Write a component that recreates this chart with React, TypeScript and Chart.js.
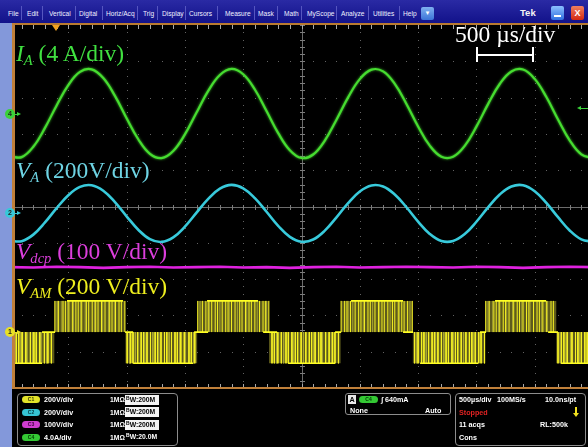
import React, { useEffect, useRef } from "react";
import { Chart, registerables } from "chart.js";

Chart.register(...registerables);

// Horizontal: 500 µs/div over 10 divisions; vertical: 10 divisions
const US_PER_DIV = 500;
const H_DIVS = 10;
const V_DIVS = 10;

// Sample instants (µs) for the two sinusoidal channels
const sampleTimesUs = [
  0, 100, 200, 300, 400, 500, 600, 700, 800, 900,
  1000, 1100, 1200, 1300, 1400, 1500, 1600, 1700, 1800, 1900,
  2000, 2100, 2200, 2300, 2400, 2500, 2600, 2700, 2800, 2900,
  3000, 3100, 3200, 3300, 3400, 3500, 3600, 3700, 3800, 3900,
  4000, 4100, 4200, 4300, 4400, 4500, 4600, 4700, 4800, 4900, 5000,
];

// CH4 – phase current I_A (A)
const phaseCurrentA = [
  -4.72, -4.8, -3.66, -1.58, 0.9, 3.14, 4.59, 4.87, 3.91, 1.95,
  -0.51, -2.83, -4.44, -4.91, -4.13, -2.3, 0.11, 2.5, 4.25, 4.92,
  4.33, 2.65, 0.28, -2.15, -4.04, -4.9, -4.51, -2.97, -0.67, 1.79,
  3.8, 4.84, 4.65, 3.27, 1.06, -1.42, -3.54, -4.76, -4.76, -3.56,
  -1.44, 1.04, 3.26, 4.64, 4.85, 3.82, 1.82, -0.65, -2.95, -4.5, -4.9,
];

// CH2 – phase voltage V_A (V)
const phaseVoltageV = [
  -151, -153, -117, -50, 29, 100, 146, 155, 125, 62,
  -16, -90, -142, -157, -132, -73, 4, 80, 136, 157,
  138, 84, 9, -69, -129, -156, -144, -95, -22, 57,
  121, 154, 148, 104, 34, -45, -113, -152, -152, -114,
  -46, 33, 104, 148, 155, 122, 58, -21, -94, -143, -156,
];

// CH3 – DC-link voltage V_dcp (V)
const dcTimesUs = [
  0, 200, 400, 600, 800, 1000, 1200, 1400, 1600, 1800, 2000, 2200, 2400,
  2600, 2800, 3000, 3200, 3400, 3600, 3800, 4000, 4200, 4400, 4600, 4800, 5000,
];
const dcLinkV = [
  345, 344, 346, 345, 343, 345, 346, 344, 345, 346, 344, 345, 343,
  345, 346, 344, 345, 346, 345, 344, 346, 345, 343, 345, 346, 345,
];

// CH1 – pole voltage V_AM: half-cycle bands and their polarity
const poleBandStartUs = [0, 380, 990, 1605, 2222, 2835, 3455, 4075, 4685];
const poleBandEndUs = [380, 990, 1605, 2222, 2835, 3455, 4075, 4685, 5000];
const poleBandSign = [-1, 1, -1, 1, -1, 1, -1, 1, -1];
const poleStepV = 172;
// stretches resting on the ±rail, and on zero around the band changes
const railRunsUs = [
  [44, 275], [489, 970], [1056, 1570], [1690, 2128], [2385, 2788],
  [2925, 3371], [3517, 4014], [4160, 4598], [4726, 5000],
];
const zeroRunsUs = [
  [275, 387], [987, 1056], [1579, 1699], [2171, 2291], [2788, 2840],
  [3371, 3457], [4031, 4083], [4615, 4700],
];
// switching edges inside each band, one character per 10 µs ('|' = bright edge, ':' = faint edge)
const edgePatterns = [
  "..|.:|.|.:|..|:..|.:|.|..|:..|.:|..|..",
  "|.:|..:|.|.:|..|:.|.|.:|..:|.|..|.:|.|..|:.|..:|.|.:|..|.|..|",
  ".|.:|.|.:.|..|.|:.|..|.:.|.|:.|..|.|.:.|..|.|.:|..|:..|.|.:|..",
  "|.:.|..|.|:.|..|.|.:.|..|.|:.|..|.:.|.|..|:.|.|..|.:.|..|.|:.|",
  "..|.|.:|..|.:.|.|..|:.|.|..|.:.|..|.|.:|..|.|:..|..|.:|.|..|.",
  "|..|.|:.|.:.|..|.|.:|..|.|.:.|..|:.|.|..|.:.|.|..|:.|.|..|.:.|",
  ".|.:|..|.|.:.|..|.|:.|..|.:.|.|..|:.|.|..|.:.|..|.|:.|..|.|..|",
  "|.:|..:|.|.:|..|.|:.|..:|..|.|.:|..|.|:..|..|.|.:|..|:..|.|..|",
  ".|.:|.|.:|..:|..|.|:.|..|.|..:|.",
];

// Vertical settings: units per division and position (div)
const ch1 = { perDiv: 200, pos: -3.46 };
const ch2 = { perDiv: 200, pos: -0.19 };
const ch3 = { perDiv: 100, pos: -5.12 };
const ch4 = { perDiv: 4, pos: 2.56 };

const toDiv = (v: number, ch: { perDiv: number; pos: number }) => ch.pos + v / ch.perDiv;

type Pt = { x: number; y: number | null };

function buildPoleTraces() {
  const zero = toDiv(0, ch1);
  const bandSignAt = (t: number) => {
    for (let i = 0; i < poleBandStartUs.length; i++) {
      if (t >= poleBandStartUs[i] && t < poleBandEndUs[i]) return poleBandSign[i];
    }
    return poleBandSign[poleBandSign.length - 1];
  };
  const fill: Pt[] = [];
  poleBandStartUs.forEach((s, i) => {
    const lvl = toDiv(poleBandSign[i] * poleStepV, ch1);
    fill.push({ x: s, y: lvl }, { x: poleBandEndUs[i], y: lvl });
  });
  const bright: Pt[] = [];
  const faint: Pt[] = [];
  edgePatterns.forEach((p, i) => {
    const s = poleBandStartUs[i];
    const lvl = toDiv(poleBandSign[i] * poleStepV, ch1);
    for (let k = 0; k < p.length; k++) {
      if (p[k] === ".") continue;
      const t = s + k * 10 + 5;
      if (t >= poleBandEndUs[i]) break;
      const dst = p[k] === "|" ? bright : faint;
      dst.push({ x: t, y: zero }, { x: t, y: lvl }, { x: t, y: null });
    }
  });
  const rails: Pt[] = [];
  railRunsUs.forEach(([a, b]) => {
    const lvl = toDiv(bandSignAt((a + b) / 2) * poleStepV, ch1);
    rails.push({ x: a, y: lvl }, { x: b, y: lvl }, { x: b, y: null });
  });
  const zeros: Pt[] = [];
  zeroRunsUs.forEach(([a, b]) => {
    zeros.push({ x: a, y: zero }, { x: b, y: zero }, { x: b, y: null });
  });
  return { zero, fill, bright, faint, rails, zeros };
}

// Tek-style graticule: dotted divisions, centre cross and edge ticks
const graticule = {
  id: "graticule",
  beforeDatasetsDraw(chart: any) {
    const { ctx, chartArea: a, scales } = chart;
    const xs = scales.x;
    const ys = scales.y;
    const px = (t: number) => Math.round(xs.getPixelForValue(t));
    const py = (d: number) => Math.round(ys.getPixelForValue(d));
    const half = V_DIVS / 2;
    ctx.save();
    ctx.fillStyle = "#626262";
    for (let i = 1; i < H_DIVS; i++) {
      if (i === H_DIVS / 2) continue;
      const x = px(i * US_PER_DIV);
      for (let j = 0; j <= V_DIVS * 5; j++) ctx.fillRect(x, py(-half + j * 0.2), 1, 1);
    }
    for (let i = 1; i < V_DIVS; i++) {
      if (i === half) continue;
      const y = py(-half + i);
      for (let j = 0; j <= H_DIVS * 5; j++) ctx.fillRect(px(j * US_PER_DIV * 0.2), y, 1, 1);
    }
    // centre cross
    const cx = px((H_DIVS / 2) * US_PER_DIV);
    const cy = py(0);
    ctx.fillStyle = "#6c6c6c";
    ctx.fillRect(cx, a.top, 1, a.bottom - a.top);
    ctx.fillRect(a.left, cy, a.right - a.left, 1);
    ctx.fillStyle = "#7c7c7c";
    for (let j = 0; j <= H_DIVS * 5; j++) ctx.fillRect(px(j * US_PER_DIV * 0.2), cy - 2, 1, 5);
    for (let j = 0; j <= V_DIVS * 5; j++) ctx.fillRect(cx - 2, py(-half + j * 0.2), 5, 1);
    // edge ticks
    ctx.fillStyle = "#a8a8a8";
    for (let j = 0; j <= H_DIVS * 5; j++) {
      const x = px(j * US_PER_DIV * 0.2);
      ctx.fillRect(x, a.top, 1, 4);
      ctx.fillRect(x, a.bottom - 4, 1, 4);
    }
    for (let j = 0; j <= V_DIVS * 5; j++) {
      const y = py(-half + j * 0.2);
      ctx.fillRect(a.left, y, 4, 1);
      ctx.fillRect(a.right - 4, y, 4, 1);
    }
    ctx.restore();
  },
  // slight phosphor bloom on the current trace
  beforeDatasetDraw(chart: any, args: any) {
    if (args.index !== 0) return;
    chart.ctx.save();
    chart.ctx.shadowColor = "rgba(70,220,48,0.9)";
    chart.ctx.shadowBlur = 2.5;
  },
  afterDatasetDraw(chart: any, args: any) {
    if (args.index !== 0) return;
    chart.ctx.restore();
  },
};

const menuItems: [string, number][] = [
  ["File", 8], ["Edit", 27], ["Vertical", 49], ["Digital", 79], ["Horiz/Acq", 106],
  ["Trig", 143], ["Display", 162], ["Cursors", 189], ["Measure", 225], ["Mask", 258],
  ["Math", 284], ["MyScope", 307], ["Analyze", 341], ["Utilities", 373], ["Help", 403],
];
const menuSeparators = [21, 42, 75, 102, 137, 157, 185, 217, 254, 277, 301, 336, 368, 399];

const channelRows = [
  { tag: "C1", color: "#e4e42a", text: "#3a3a00", scale: "200V/div", bw: "200M", boxed: true },
  { tag: "C2", color: "#36c4d4", text: "#003a40", scale: "200V/div", bw: "200M", boxed: true },
  { tag: "C3", color: "#cf3ccf", text: "#400040", scale: "100V/div", bw: "200M", boxed: true },
  { tag: "C4", color: "#34c834", text: "#003a00", scale: "4.0A/div", bw: "20.0M", boxed: false },
];

const serif = '"Liberation Serif", "Times New Roman", serif';
const sans = '"Liberation Sans", Arial, sans-serif';

function Marker({ n, y, color }: { n: string; y: number; color: string }) {
  return (
    <>
      <div
        style={{
          position: "absolute", left: 5, top: y - 5, width: 10, height: 10, borderRadius: "50%",
          background: color, color: "#222", fontSize: 7, fontWeight: "bold", fontFamily: sans,
          textAlign: "center", lineHeight: "10px",
        }}
      >
        {n}
      </div>
      <div style={{ position: "absolute", left: 15, top: y - 0.5, width: 3, height: 1, background: color }} />
      <div
        style={{
          position: "absolute", left: 17, top: y - 2.5, width: 0, height: 0,
          borderTop: "2.5px solid transparent", borderBottom: "2.5px solid transparent",
          borderLeft: `4px solid ${color}`,
        }}
      />
    </>
  );
}

export default function App() {
  const canvasRef = useRef<HTMLCanvasElement>(null);

  useEffect(() => {
    document.body.style.margin = "0";
    const canvas = canvasRef.current;
    if (!canvas) return;
    const pole = buildPoleTraces();
    const chart = new Chart(canvas, {
      type: "line",
      data: {
        datasets: [
          {
            data: sampleTimesUs.map((t, i) => ({ x: t, y: toDiv(phaseCurrentA[i], ch4) })),
            borderColor: "#46dc30", borderWidth: 2.2, tension: 0.4,
          },
          {
            data: sampleTimesUs.map((t, i) => ({ x: t, y: toDiv(phaseVoltageV[i], ch2) })),
            borderColor: "#38cadb", borderWidth: 2.6, tension: 0.4,
          },
          {
            data: dcTimesUs.map((t, i) => ({ x: t, y: toDiv(dcLinkV[i], ch3) })),
            borderColor: "#e022e0", borderWidth: 2.6, tension: 0,
          },
          { data: pole.rails, borderColor: "#ffff24", borderWidth: 1.6, tension: 0 },
          { data: pole.zeros, borderColor: "#ffff24", borderWidth: 1.6, tension: 0 },
          { data: pole.bright, borderColor: "#f6f224", borderWidth: 1, tension: 0 },
          { data: pole.faint, borderColor: "#a9a636", borderWidth: 1, tension: 0 },
          {
            data: pole.fill, borderWidth: 0, borderColor: "rgba(0,0,0,0)",
            backgroundColor: "#5e5b1c", tension: 0, fill: { value: pole.zero },
          },
        ] as any,
      },
      options: {
        animation: false,
        responsive: false,
        maintainAspectRatio: false,
        events: [],
        layout: { padding: 0 },
        elements: { point: { radius: 0 } },
        plugins: { legend: { display: false }, tooltip: { enabled: false } },
        scales: {
          x: { type: "linear", min: 0, max: H_DIVS * US_PER_DIV, display: false },
          y: { type: "linear", min: -V_DIVS / 2, max: V_DIVS / 2, display: false },
        },
      },
      plugins: [graticule],
    });
    return () => chart.destroy();
  }, []);

  const label = (left: number, top: number, color: string): React.CSSProperties => ({
    position: "absolute", left, top, color, fontFamily: serif, fontSize: 23.5,
    lineHeight: 1, whiteSpace: "nowrap",
  });
  const sub: React.CSSProperties = { fontStyle: "italic", fontSize: "0.62em", position: "relative", top: 4 };
  const small = (left: number, top: number, color = "#fff"): React.CSSProperties => ({
    position: "absolute", left, top, color, fontFamily: sans, fontSize: 7.2, fontWeight: "bold",
    lineHeight: "9px", whiteSpace: "nowrap",
  });

  return (
    <div
      style={{
        position: "relative", width: 588, height: 447, background: "#000", overflow: "hidden",
        fontFamily: sans,
      }}
    >
      <style>{"body{margin:0}"}</style>
      <canvas
        ref={canvasRef}
        width={583}
        height={363}
        style={{ position: "absolute", left: 10, top: 25, width: 583, height: 363 }}
      />

      {/* menu bar */}
      <div
        style={{
          position: "absolute", left: 0, top: 0, width: 588, height: 23,
          background: "linear-gradient(#2a2aa4, #12128a)",
        }}
      />
      {menuItems.map(([t, x]) => (
        <div key={t} style={{ ...small(x, 9), fontWeight: "normal", fontSize: 6.6, color: "#f0f0ff" }}>
          {t}
        </div>
      ))}
      {menuSeparators.map((x) => (
        <div key={x} style={{ position: "absolute", left: x, top: 6, width: 1, height: 14, background: "#5656c0" }} />
      ))}
      <div
        style={{
          position: "absolute", left: 421, top: 7, width: 13, height: 13, borderRadius: 2,
          background: "linear-gradient(#7fb0f0, #3c74d8)", color: "#fff", fontSize: 6,
          textAlign: "center", lineHeight: "13px",
        }}
      >
        ▼
      </div>
      <div style={{ ...small(520, 7), fontSize: 9.5, lineHeight: "11px", color: "#f4f4f4" }}>Tek</div>
      <div
        style={{
          position: "absolute", left: 551, top: 6, width: 13, height: 14, borderRadius: 2,
          background: "linear-gradient(#8cc0ff, #2f6ee0)",
        }}
      >
        <div style={{ position: "absolute", left: 3, top: 9, width: 7, height: 2, background: "#fff" }} />
      </div>
      <div
        style={{
          position: "absolute", left: 571, top: 6, width: 13, height: 14, borderRadius: 2,
          background: "linear-gradient(#f08060, #d42810)", color: "#fff", fontSize: 9,
          fontWeight: "bold", textAlign: "center", lineHeight: "14px",
        }}
      >
        X
      </div>

      {/* frame */}
      <div style={{ position: "absolute", left: 12, top: 23, width: 576, height: 2, background: "#b87a30" }} />
      <div style={{ position: "absolute", left: 0, top: 23, width: 12, height: 424, background: "#8398da" }} />
      <div style={{ position: "absolute", left: 12, top: 23, width: 3, height: 366, background: "#c0803a" }} />
      <div style={{ position: "absolute", left: 12, top: 387, width: 576, height: 2, background: "#c0803a" }} />

      {/* trigger position */}
      <div
        style={{
          position: "absolute", left: 52, top: 25, width: 0, height: 0,
          borderLeft: "4px solid transparent", borderRight: "4px solid transparent",
          borderTop: "6px solid #f0a020",
        }}
      />

      <Marker n="4" y={114} color="#3ad23a" />
      <Marker n="2" y={213} color="#36c8d8" />
      <Marker n="1" y={332} color="#e8e026" />
      {/* CH4 level arrow at right edge */}
      <div style={{ position: "absolute", left: 581, top: 107.5, width: 7, height: 1, background: "#3ad23a" }} />
      <div
        style={{
          position: "absolute", left: 577, top: 105.5, width: 0, height: 0,
          borderTop: "2.5px solid transparent", borderBottom: "2.5px solid transparent",
          borderRight: "4px solid #3ad23a",
        }}
      />

      {/* trace annotations */}
      <div style={label(16, 42, "#40e040")}>
        <i>I</i>
        <span style={sub}>A</span> (4 A/div)
      </div>
      <div style={label(16, 159, "#6ed4e4")}>
        <i>V</i>
        <span style={sub}>A</span> (200V/div)
      </div>
      <div style={label(16, 240, "#dc3edc")}>
        <i>V</i>
        <span style={sub}>dcp</span> (100 V/div)
      </div>
      <div style={label(16, 275, "#eeee1e")}>
        <i>V</i>
        <span style={sub}>AM</span> (200 V/div)
      </div>
      <div style={label(455, 23, "#ffffff")}>500 µs/div</div>
      <div style={{ position: "absolute", left: 476, top: 54, width: 57, height: 1.5, background: "#fff" }} />
      <div style={{ position: "absolute", left: 476, top: 47, width: 1.5, height: 15, background: "#fff" }} />
      <div style={{ position: "absolute", left: 532, top: 47, width: 1.5, height: 15, background: "#fff" }} />

      {/* channel readouts */}
      <div
        style={{
          position: "absolute", left: 17, top: 393, width: 161, height: 53, borderRadius: 4,
          border: "1px solid #8c8c8c", boxSizing: "border-box",
        }}
      />
      {channelRows.map((r, i) => {
        const y = [395, 407.5, 420, 432.5][i];
        return (
          <React.Fragment key={r.tag}>
            <div
              style={{
                position: "absolute", left: 22, top: y + 1, width: 18, height: 7, borderRadius: 4,
                background: r.color, color: r.text, fontSize: 5, fontWeight: "bold", fontFamily: sans,
                textAlign: "center", lineHeight: "7px",
              }}
            >
              {r.tag}
            </div>
            <div style={small(44, y)}>{r.scale}</div>
            <div style={{ ...small(110, y), fontSize: 6.8 }}>1MΩ</div>
            <div
              style={{
                ...small(125, y - 0.5),
                fontSize: 6.8,
                color: r.boxed ? "#000" : "#fff",
                background: r.boxed ? "#f4f4f4" : "transparent",
                padding: "0 1px",
                width: 32,
              }}
            >
              <span style={{ fontSize: 5, position: "relative", top: -2 }}>B</span>W:{r.bw}
            </div>
          </React.Fragment>
        );
      })}

      {/* trigger readout */}
      <div
        style={{
          position: "absolute", left: 345, top: 393, width: 106, height: 22, borderRadius: 3,
          border: "1px solid #8c8c8c", boxSizing: "border-box",
        }}
      />
      <div
        style={{
          ...small(348, 395), background: "#e8e8e8", color: "#000", width: 8, textAlign: "center",
        }}
      >
        A
      </div>
      <div
        style={{
          position: "absolute", left: 359, top: 396, width: 19, height: 7, borderRadius: 4,
          background: "#34c834", color: "#003a00", fontSize: 5, fontWeight: "bold",
          textAlign: "center", lineHeight: "7px",
        }}
      >
        C4
      </div>
      <div style={small(381, 395)}>∫ 640mA</div>
      <div style={small(350, 406)}>None</div>
      <div style={small(425, 406)}>Auto</div>

      {/* acquisition readout */}
      <div
        style={{
          position: "absolute", left: 455, top: 393, width: 131, height: 53, borderRadius: 4,
          border: "1px solid #8c8c8c", boxSizing: "border-box",
        }}
      />
      <div style={small(459, 395)}>500µs/div</div>
      <div style={small(497, 395)}>100MS/s</div>
      <div style={small(545, 395)}>10.0ns/pt</div>
      <div style={small(459, 407.5, "#e02222")}>Stopped</div>
      <div style={{ position: "absolute", left: 575, top: 407, width: 2, height: 6, background: "#f0e020" }} />
      <div
        style={{
          position: "absolute", left: 573, top: 413, width: 0, height: 0,
          borderLeft: "3px solid transparent", borderRight: "3px solid transparent",
          borderTop: "4px solid #f0e020",
        }}
      />
      <div style={small(459, 420)}>11 acqs</div>
      <div style={small(540, 420)}>RL:500k</div>
      <div style={small(459, 432.5)}>Cons</div>
    </div>
  );
}
